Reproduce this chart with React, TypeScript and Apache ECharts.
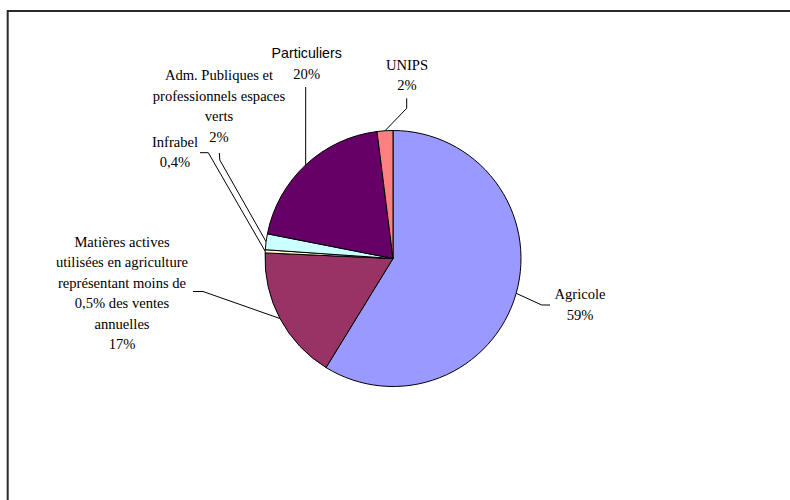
import React, { useEffect, useRef } from "react";
import * as echarts from "echarts";

// Répartition des ventes par secteur (%)
const categories = [
  "Agricole",
  "Matières actives\nutilisées en agriculture\nreprésentant moins de\n0,5% des ventes\nannuelles",
  "Infrabel",
  "Adm. Publiques et\nprofessionnels espaces\nverts",
  "Particuliers",
  "UNIPS",
];
const shares = [59, 17, 0.4, 2, 20, 2];
const colors = ["#9999FF", "#993366", "#FFFFCC", "#CCFFFF", "#660066", "#FF8080"];

// Label anchor (centre of text block) and leader-line bends, per slice
const labelPlacement: { x: number; y: number; bends: number[][] }[] = [
  { x: 580, y: 304.5, bends: [[541.7, 305], [550, 305]] },
  { x: 122, y: 293, bends: [[203, 291.5], [193, 291.5]] },
  { x: 175, y: 152.2, bends: [[208.3, 152.7], [200, 152.7]] },
  { x: 219, y: 106, bends: [[219.8, 160], [219.3, 153]] },
  { x: 306.7, y: 63.5, bends: [[305.7, 87]] },
  { x: 407, y: 75, bends: [[406.7, 108.3], [406.7, 98.3]] },
];

const CENTER: [number, number] = [393, 258.5];
const RADIUS = 128;

const SERIF = "Liberation Serif";
const SANS = "Liberation Sans";

const fmt = (v: number) => String(v).replace(".", ",") + "%";

export default function App() {
  const ref = useRef<HTMLDivElement>(null);

  useEffect(() => {
    if (!ref.current) return;
    const chart = echarts.init(ref.current, undefined, { renderer: "svg" });

    // running angle so a fallback edge point can be computed for each slice
    const total = shares.reduce((a, b) => a + b, 0);
    const mids: number[] = [];
    let acc = 0;
    shares.forEach((v) => {
      mids.push(((acc + v / 2) / total) * Math.PI * 2);
      acc += v;
    });

    const textBase = {
      fontFamily: SERIF,
      fontSize: 14.6,
      lineHeight: 20.5,
      color: "#000000",
      align: "center",
    };

    chart.setOption({
      animation: false,
      backgroundColor: "#ffffff",
      graphic: [
        {
          type: "rect",
          shape: { x: 7.7, y: 11, width: 800, height: 520 },
          style: { fill: "none", stroke: "#2a2a2a", lineWidth: 2 },
          silent: true,
        },
      ],
      series: [
        {
          type: "pie",
          center: CENTER,
          radius: RADIUS,
          startAngle: 90,
          clockwise: true,
          avoidLabelOverlap: false,
          itemStyle: { borderColor: "#000000", borderWidth: 1 },
          label: {
            show: true,
            formatter: (p: any) => {
              const nameLines = String(p.name)
                .split("\n")
                .map((l: string) => (p.dataIndex === 4 ? `{sans|${l}}` : `{serif|${l}}`));
              return [...nameLines, `{serif|${fmt(p.value)}}`].join("\n");
            },
            ...textBase,
            rich: {
              serif: { ...textBase },
              sans: { ...textBase, fontFamily: SANS, fontSize: 14.2 },
            },
          },
          labelLine: {
            show: true,
            lineStyle: { color: "#000000", width: 1 },
          },
          labelLayout: (params: any) => {
            const i = params.dataIndex;
            const place = labelPlacement[i];
            let start: number[];
            if (params.labelLinePoints && params.labelLinePoints[0]) {
              start = params.labelLinePoints[0];
            } else {
              const a = mids[i];
              start = [CENTER[0] + RADIUS * Math.sin(a), CENTER[1] - RADIUS * Math.cos(a)];
            }
            return {
              x: place.x,
              y: place.y,
              align: "center",
              verticalAlign: "middle",
              labelLinePoints: [start, ...place.bends],
            };
          },
          data: categories.map((name, i) => ({
            name,
            value: shares[i],
            itemStyle: { color: colors[i] },
          })),
        },
      ],
    });

    return () => chart.dispose();
  }, []);

  return (
    <div
      ref={ref}
      style={{ position: "fixed", left: 0, top: 0, width: 790, height: 500 }}
    />
  );
}
